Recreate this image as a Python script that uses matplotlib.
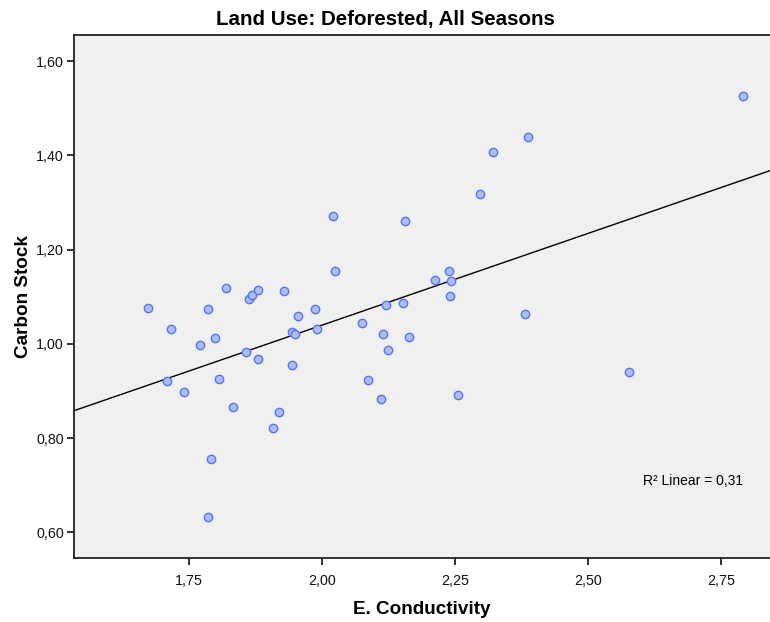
import numpy as np
import matplotlib
matplotlib.use("Agg")
import matplotlib.pyplot as plt
from matplotlib.ticker import FuncFormatter

# Data
conductivity = [1.672, 1.716, 1.785, 1.819, 1.862, 1.869, 1.880, 1.929, 1.986, 1.954,
                1.944, 1.949, 1.991, 1.771, 1.799, 1.857, 1.880, 1.944, 1.708, 1.740,
                1.806, 1.832, 1.919, 1.908, 1.792, 1.785, 2.021, 2.155, 2.297, 2.025,
                2.238, 2.212, 2.243, 2.240, 2.120, 2.152, 2.075, 2.114, 2.164, 2.123,
                2.086, 2.110, 2.255, 2.791, 2.387, 2.321, 2.382, 2.576]
carbon_stock = [1.077, 1.031, 1.075, 1.119, 1.096, 1.104, 1.114, 1.113, 1.075, 1.059,
                1.025, 1.020, 1.032, 0.997, 1.013, 0.983, 0.967, 0.956, 0.921, 0.898,
                0.926, 0.866, 0.856, 0.821, 0.755, 0.632, 1.271, 1.261, 1.318, 1.155,
                1.154, 1.136, 1.134, 1.101, 1.083, 1.086, 1.044, 1.020, 1.014, 0.988,
                0.923, 0.883, 0.891, 1.526, 1.439, 1.407, 1.064, 0.941]
x_ticks = [1.75, 2.00, 2.25, 2.50, 2.75]
y_ticks = [0.60, 0.80, 1.00, 1.20, 1.40, 1.60]
title = "Land Use: Deforested, All Seasons"
x_label = "E. Conductivity"
y_label = "Carbon Stock"
r2_label = "R\u00b2 Linear = 0,31"

plt.rcParams['font.family'] = ['Liberation Sans', 'DejaVu Sans']

W, H = 770, 622
fig = plt.figure(figsize=(W / 100, H / 100), dpi=100)
fig.patch.set_facecolor('white')
ax = fig.add_axes([73.7 / W, 1 - 558.3 / H, (W - 73.7) / W, (558.3 - 34.7) / H])
ax.set_facecolor('#f0f0f0')

xlim = (1.533, 2.842)
ylim = (0.545, 1.656)
ax.set_xlim(*xlim)
ax.set_ylim(*ylim)

x = np.array(conductivity)
y = np.array(carbon_stock)
ax.scatter(x, y, s=36, facecolor='#a9c1f2', edgecolor='#5a70f7', linewidth=1.0, zorder=3)

slope, intercept = np.polyfit(x, y, 1)
xx = np.array(xlim)
ax.plot(xx, slope * xx + intercept, color='black', linewidth=1.0, zorder=2)

ax.spines['right'].set_visible(False)
for side in ['left', 'bottom', 'top']:
    ax.spines[side].set_linewidth(1.3)
    ax.spines[side].set_color('#222222')

ax.set_xticks(x_ticks)
ax.set_yticks(y_ticks)
fmt = FuncFormatter(lambda v, p: f"{v:.2f}".replace('.', ','))
ax.xaxis.set_major_formatter(fmt)
ax.yaxis.set_major_formatter(fmt)
ax.tick_params(axis='both', direction='out', length=5, width=1.3, color='#222222',
               labelsize=10.3, labelcolor='#111111')
ax.tick_params(axis='x', pad=6)
ax.tick_params(axis='y', pad=2)

ax.set_xlabel(x_label, fontsize=13.6, fontweight='bold', labelpad=10)
ax.set_ylabel(y_label, fontsize=13.6, fontweight='bold', labelpad=3)
fig.text(0.5, 1 - 19 / H, title, ha='center', va='center', fontsize=14.8, fontweight='bold')

ax.text(0.817, 0.148, r2_label, transform=ax.transAxes, ha='left', va='center', fontsize=10)

fig.savefig('out.png', dpi=100)
